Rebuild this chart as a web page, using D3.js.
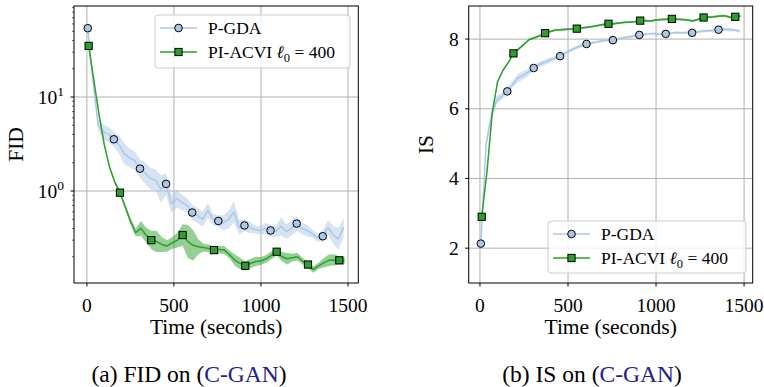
<!DOCTYPE html>
<html>
<head>
<meta charset="utf-8">
<script src="https://cdn.jsdelivr.net/npm/d3@7"></script>
<style>
  html, body { margin: 0; padding: 0; background: #fff; }
  svg { display: block; }
</style>
</head>
<body>
<div id="chart"></div>
<script>
// ---- data ----
const gdaTime = [5, 35, 65, 95, 125, 155, 185, 215, 245, 275, 305, 335, 365, 395, 425, 455, 485, 515, 545, 575,
  605, 635, 665, 695, 725, 755, 785, 815, 845, 875, 905, 935, 965, 995, 1025, 1055, 1085, 1115, 1145, 1175,
  1205, 1235, 1265, 1295, 1325, 1355, 1385, 1415, 1445, 1475];
const acviTime = [10, 40, 70, 100, 130, 160, 190, 220, 250, 280, 310, 340, 370, 400, 430, 460, 490, 520, 550, 580,
  610, 640, 670, 700, 730, 760, 790, 820, 850, 880, 910, 940, 970, 1000, 1030, 1060, 1090, 1120, 1150, 1180,
  1210, 1240, 1270, 1300, 1330, 1360, 1390, 1420, 1450, 1480];

// FID (log axis)
const gdaFid = [54, 15, 5.0, 4.25, 4.0, 3.55, 3.1, 2.5, 2.25, 2.1, 1.73, 1.55, 1.36, 1.3, 1.05, 1.19, 0.73, 0.83, 0.76, 0.70,
  0.59, 0.55, 0.50, 0.62, 0.50, 0.48, 0.46, 0.50, 0.60, 0.41, 0.43, 0.41, 0.39, 0.38, 0.40, 0.38, 0.37, 0.42, 0.37, 0.40,
  0.45, 0.40, 0.38, 0.35, 0.32, 0.33, 0.41, 0.34, 0.31, 0.41];
const gdaFidSpread = [1.05, 1.1, 1.15, 1.2, 1.2, 1.2, 1.25, 1.3, 1.25, 1.25, 1.25, 1.3, 1.3, 1.3, 1.4, 1.3, 1.25, 1.25, 1.2, 1.2,
  1.2, 1.2, 1.2, 1.2, 1.15, 1.15, 1.2, 1.25, 1.3, 1.2, 1.15, 1.15, 1.1, 1.1, 1.15, 1.15, 1.15, 1.25, 1.2, 1.2,
  1.2, 1.15, 1.15, 1.1, 1.1, 1.15, 1.2, 1.25, 1.3, 1.25];
const acviFid = [35, 15, 6.5, 3.1, 1.8, 1.25, 0.96, 0.68, 0.48, 0.36, 0.40, 0.34, 0.30, 0.29, 0.27, 0.26, 0.28, 0.30, 0.34, 0.29,
  0.265, 0.255, 0.25, 0.245, 0.235, 0.238, 0.235, 0.21, 0.183, 0.17, 0.16, 0.17, 0.178, 0.18, 0.19, 0.207, 0.226, 0.20, 0.19, 0.195,
  0.20, 0.178, 0.165, 0.146, 0.16, 0.172, 0.183, 0.185, 0.183, 0.182];
const acviFidSpread = [1.02, 1.03, 1.03, 1.04, 1.04, 1.05, 1.05, 1.06, 1.08, 1.1, 1.2, 1.2, 1.25, 1.3, 1.2, 1.15, 1.15, 1.2, 1.3, 1.5,
  1.45, 1.2, 1.1, 1.1, 1.1, 1.1, 1.1, 1.1, 1.15, 1.15, 1.12, 1.12, 1.12, 1.1, 1.1, 1.1, 1.1, 1.12, 1.15, 1.1,
  1.1, 1.08, 1.08, 1.08, 1.08, 1.12, 1.15, 1.15, 1.1, 1.1];

// IS (linear axis)
const gdaIs = [2.13, 5.0, 5.8, 6.25, 6.37, 6.5, 6.7, 6.88, 6.96, 7.05, 7.17, 7.27, 7.33, 7.39, 7.45, 7.51, 7.60, 7.68, 7.75, 7.81,
  7.86, 7.89, 7.92, 7.95, 7.97, 7.97, 8.0, 8.04, 8.06, 8.09, 8.12, 8.13, 8.15, 8.16, 8.14, 8.15, 8.17, 8.19, 8.18, 8.19,
  8.18, 8.21, 8.23, 8.24, 8.25, 8.27, 8.28, 8.27, 8.26, 8.23];
const gdaIsSpread = [0.02, 0.1, 0.15, 0.12, 0.1, 0.1, 0.1, 0.12, 0.12, 0.1, 0.08, 0.08, 0.08, 0.08, 0.06, 0.05, 0.05, 0.05, 0.05, 0.05,
  0.04, 0.04, 0.04, 0.04, 0.04, 0.04, 0.04, 0.04, 0.04, 0.03, 0.03, 0.03, 0.03, 0.03, 0.03, 0.03, 0.03, 0.03, 0.03, 0.03,
  0.03, 0.04, 0.04, 0.04, 0.04, 0.04, 0.05, 0.05, 0.04, 0.04];
const acviIs = [2.9, 4.2, 5.9, 6.78, 7.1, 7.32, 7.59, 7.72, 7.85, 7.99, 8.04, 8.1, 8.17, 8.22, 8.26, 8.27, 8.28, 8.29, 8.30, 8.32,
  8.34, 8.36, 8.39, 8.42, 8.44, 8.44, 8.46, 8.48, 8.49, 8.50, 8.53, 8.53, 8.52, 8.55, 8.56, 8.57, 8.58, 8.57, 8.56, 8.55,
  8.52, 8.57, 8.62, 8.63, 8.64, 8.66, 8.67, 8.63, 8.64, 8.66];
const acviIsSpread = [0.02, 0.03, 0.03, 0.03, 0.03, 0.03, 0.03, 0.03, 0.03, 0.03, 0.03, 0.03, 0.03, 0.03, 0.03, 0.03, 0.03, 0.03, 0.03, 0.03,
  0.03, 0.03, 0.03, 0.03, 0.03, 0.03, 0.03, 0.03, 0.03, 0.03, 0.03, 0.03, 0.03, 0.03, 0.03, 0.03, 0.03, 0.03, 0.03, 0.03,
  0.03, 0.03, 0.03, 0.03, 0.03, 0.03, 0.03, 0.03, 0.03, 0.03];

const xTicks = [0, 500, 1000, 1500];
const fidMajorTicks = [1, 10];
const isTicks = [2, 4, 6, 8];
const seriesNames = ['P-GDA', 'PI-ACVI'];
const captions = [['(a) FID on (', 'C-GAN', ')'], ['(b) IS on (', 'C-GAN', ')']];

const colors = { gda: '#aec7e8', acvi: '#2ca02c', grid: '#b0b0b0', cite: '#22228c' };
const FONT = "'Liberation Serif', 'Times New Roman', serif";

const W = 764, H = 387;
const svg = d3.select('#chart').append('svg')
  .attr('width', W).attr('height', H)
  .attr('font-family', FONT);

let clipId = 0;

function drawPanel(p) {
  const g = svg.append('g');
  const x = d3.scaleLinear().domain(p.xDomain).range([p.left, p.right]);
  const y = p.y;

  const cid = 'clip' + (clipId++);
  svg.append('clipPath').attr('id', cid).append('rect')
    .attr('x', p.left).attr('y', p.top).attr('width', p.right - p.left).attr('height', p.bottom - p.top);

  // grid
  g.append('g').selectAll('line').data(xTicks).join('line')
    .attr('x1', d => x(d)).attr('x2', d => x(d)).attr('y1', p.top).attr('y2', p.bottom)
    .attr('stroke', colors.grid).attr('stroke-width', 1);
  g.append('g').selectAll('line').data(p.yTicks).join('line')
    .attr('x1', p.left).attr('x2', p.right).attr('y1', d => y(d)).attr('y2', d => y(d))
    .attr('stroke', colors.grid).attr('stroke-width', 1);

  const plot = g.append('g').attr('clip-path', `url(#${cid})`);

  p.series.forEach(s => {
    const pts = s.t.map((t, i) => ({ t, v: s.v[i], lo: s.lo[i], hi: s.hi[i], i }));
    plot.append('path').datum(pts)
      .attr('fill', s.color).attr('fill-opacity', 0.5).attr('stroke', 'none')
      .attr('d', d3.area().x(d => x(d.t)).y0(d => y(d.lo)).y1(d => y(d.hi)));
    plot.append('path').datum(pts)
      .attr('fill', 'none').attr('stroke', s.color).attr('stroke-width', 1.5)
      .attr('stroke-linejoin', 'round')
      .attr('d', d3.line().x(d => x(d.t)).y(d => y(d.v)));
    const marks = pts.filter(d => d.i % s.every === 0);
    drawMarkers(plot, marks, s, d => x(d.t), d => y(d.v));
  });

  // frame
  g.append('rect').attr('x', p.left).attr('y', p.top)
    .attr('width', p.right - p.left).attr('height', p.bottom - p.top)
    .attr('fill', 'none').attr('stroke', '#000').attr('stroke-width', 1);

  // x axis ticks + labels
  const xa = g.append('g');
  xa.selectAll('line').data(xTicks).join('line')
    .attr('x1', d => x(d)).attr('x2', d => x(d)).attr('y1', p.bottom).attr('y2', p.bottom + 3.5)
    .attr('stroke', '#000').attr('stroke-width', 1);
  xa.selectAll('text').data(xTicks).join('text')
    .attr('x', d => x(d)).attr('y', p.bottom + 28.5)
    .attr('text-anchor', 'middle').attr('font-size', 19.5).text(d => d);

  // y axis ticks + labels
  const ya = g.append('g');
  ya.selectAll('line.maj').data(p.yTicks).join('line')
    .attr('x1', p.left - 3.5).attr('x2', p.left).attr('y1', d => y(d)).attr('y2', d => y(d))
    .attr('stroke', '#000').attr('stroke-width', 1);
  if (p.minor) {
    ya.selectAll('line.min').data(p.minor).join('line')
      .attr('x1', p.left - 2).attr('x2', p.left).attr('y1', d => y(d)).attr('y2', d => y(d))
      .attr('stroke', '#000').attr('stroke-width', 0.6);
  }
  const yl = ya.selectAll('text').data(p.yTicks).join('text')
    .attr('x', p.left - 10).attr('y', d => y(d) + 6.5)
    .attr('text-anchor', 'end').attr('font-size', 19.5);
  if (p.log) {
    yl.each(function (d) {
      const t = d3.select(this);
      t.append('tspan').text('10');
      t.append('tspan').attr('dy', -8).attr('font-size', 13.5).text(Math.round(Math.log10(d)));
    });
  } else {
    yl.text(d => d);
  }

  // axis titles
  g.append('text').attr('x', (p.left + p.right) / 2).attr('y', p.bottom + 51)
    .attr('text-anchor', 'middle').attr('font-size', 21.5).text('Time (seconds)');
  g.append('text').attr('transform', `translate(${p.ylabelX},${(p.top + p.bottom) / 2}) rotate(-90)`)
    .attr('text-anchor', 'middle').attr('font-size', 21.5).text(p.ylabel);

  // legend
  const L = p.legend;
  const lg = g.append('g');
  lg.append('rect').attr('x', L.x).attr('y', L.y).attr('width', L.w).attr('height', L.h)
    .attr('rx', 3).attr('fill', '#fff').attr('fill-opacity', 0.8)
    .attr('stroke', '#cccccc').attr('stroke-width', 1);
  p.series.forEach((s, k) => {
    const cy = L.y + 13 + k * 24;
    lg.append('line').attr('x1', L.x + 5).attr('x2', L.x + 42).attr('y1', cy).attr('y2', cy)
      .attr('stroke', s.color).attr('stroke-width', 1.5);
    drawMarkers(lg, [{}], s, () => L.x + 23.5, () => cy);
    const tx = lg.append('text').attr('x', L.x + 53).attr('y', cy + 6).attr('font-size', 17.5);
    if (k === 0) {
      tx.text(seriesNames[0]);
    } else {
      tx.append('tspan').text(seriesNames[1] + ' ');
      tx.append('tspan').attr('font-style', 'italic').text('\u2113');
      tx.append('tspan').attr('dy', 4).attr('font-size', 12.5).text('0');
      tx.append('tspan').attr('dy', -4).text(' = 400');
    }
  });

  // caption
  const cap = g.append('text').attr('x', p.captionX).attr('y', 382)
    .attr('text-anchor', 'middle').attr('font-size', 23.5);
  cap.append('tspan').text(p.caption[0]);
  cap.append('tspan').attr('fill', colors.cite).text(p.caption[1]);
  cap.append('tspan').text(p.caption[2]);
}

function drawMarkers(sel, data, s, fx, fy) {
  if (s.shape === 'circle') {
    sel.append('g').selectAll('circle').data(data).join('circle')
      .attr('cx', fx).attr('cy', fy).attr('r', 3.8)
      .attr('fill', s.color).attr('stroke', '#000').attr('stroke-width', 1);
  } else {
    sel.append('g').selectAll('rect').data(data).join('rect')
      .attr('x', d => fx(d) - 3.6).attr('y', d => fy(d) - 3.6)
      .attr('width', 7.2).attr('height', 7.2)
      .attr('fill', s.color).attr('stroke', '#000').attr('stroke-width', 1);
  }
}

// ---- left: FID ----
const yFid = d3.scaleLog().domain([0.105, 93]).range([283, 6]);
const fidMinor = [];
[0.1, 1, 10].forEach(b => [2, 3, 4, 5, 6, 7, 8, 9].forEach(m => {
  const v = m * b;
  if (v >= 0.105 && v <= 93) fidMinor.push(v);
}));

drawPanel({
  left: 74, right: 358.3, top: 6, bottom: 283,
  xDomain: [-74, 1559], y: yFid, yTicks: fidMajorTicks, minor: fidMinor, log: true,
  ylabel: 'FID', ylabelX: 23,
  legend: { x: 155, y: 15, w: 195, h: 53 },
  caption: captions[0], captionX: 189,
  series: [
    { t: gdaTime, v: gdaFid, lo: gdaFid.map((v, i) => v / gdaFidSpread[i]), hi: gdaFid.map((v, i) => v * gdaFidSpread[i]),
      color: colors.gda, shape: 'circle', every: 5 },
    { t: acviTime, v: acviFid, lo: acviFid.map((v, i) => v / acviFidSpread[i]), hi: acviFid.map((v, i) => v * acviFidSpread[i]),
      color: colors.acvi, shape: 'square', every: 6 }
  ]
});

// ---- right: IS ----
const yIs = d3.scaleLinear().domain([1, 8.95]).range([283, 6]);

drawPanel({
  left: 468.7, right: 752.7, top: 6, bottom: 283,
  xDomain: [-64, 1549], y: yIs, yTicks: isTicks, minor: null, log: false,
  ylabel: 'IS', ylabelX: 433,
  legend: { x: 548, y: 221, w: 198, h: 52 },
  caption: captions[1], captionX: 592,
  series: [
    { t: gdaTime, v: gdaIs, lo: gdaIs.map((v, i) => v - gdaIsSpread[i]), hi: gdaIs.map((v, i) => v + gdaIsSpread[i]),
      color: colors.gda, shape: 'circle', every: 5 },
    { t: acviTime, v: acviIs, lo: acviIs.map((v, i) => v - acviIsSpread[i]), hi: acviIs.map((v, i) => v + acviIsSpread[i]),
      color: colors.acvi, shape: 'square', every: 6 }
  ]
});
</script>
</body>
</html>
